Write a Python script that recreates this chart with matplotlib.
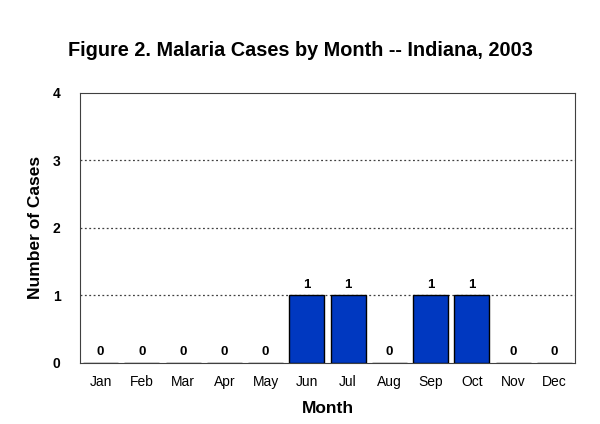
import matplotlib
matplotlib.use("Agg")
import matplotlib.pyplot as plt

plt.rcParams['font.family'] = ['Liberation Sans', 'DejaVu Sans']

months = ["Jan", "Feb", "Mar", "Apr", "May", "Jun", "Jul", "Aug", "Sep", "Oct", "Nov", "Dec"]
cases = [0, 0, 0, 0, 0, 1, 1, 0, 1, 1, 0, 0]
yticks = [0, 1, 2, 3, 4]

fig = plt.figure(figsize=(6, 4.24), dpi=100)
ax = fig.add_axes([0.1333, 0.144, 0.825, 0.637])

x = range(len(months))
ax.bar(x, cases, width=0.85, color="#0038C0", edgecolor="black", linewidth=1, zorder=3)
for i, v in zip(x, cases):
    ax.text(i, v + 0.07, str(v), ha="center", va="bottom", fontsize=9.5, fontweight="bold")

ax.set_xlim(-0.5, len(months) - 0.5)
ax.set_ylim(0, 4)
ax.set_yticks(yticks)
ax.set_yticklabels([str(t) for t in yticks], fontweight="bold", fontsize=10)
ax.set_xticks(list(x))
ax.set_xticklabels(months, fontsize=10)
ax.tick_params(length=0, pad=9)
ax.tick_params(axis="y", pad=14)
for t in yticks[1:-1]:
    ax.axhline(t, color="#404040", linestyle=(0, (1.5, 2)), linewidth=0.9, zorder=1)
for s in ax.spines.values():
    s.set_linewidth(0.8)
    s.set_color("#404040")

ax.set_xlabel("Month", fontsize=12.5, fontweight="bold", labelpad=8)
ax.set_ylabel("Number of Cases", fontsize=12.5, fontweight="bold", labelpad=7)
fig.text(0.5, 0.88, "Figure 2. Malaria Cases by Month -- Indiana, 2003",
         ha="center", va="center", fontsize=14.3, fontweight="bold")

fig.savefig("out.png", dpi=100)
